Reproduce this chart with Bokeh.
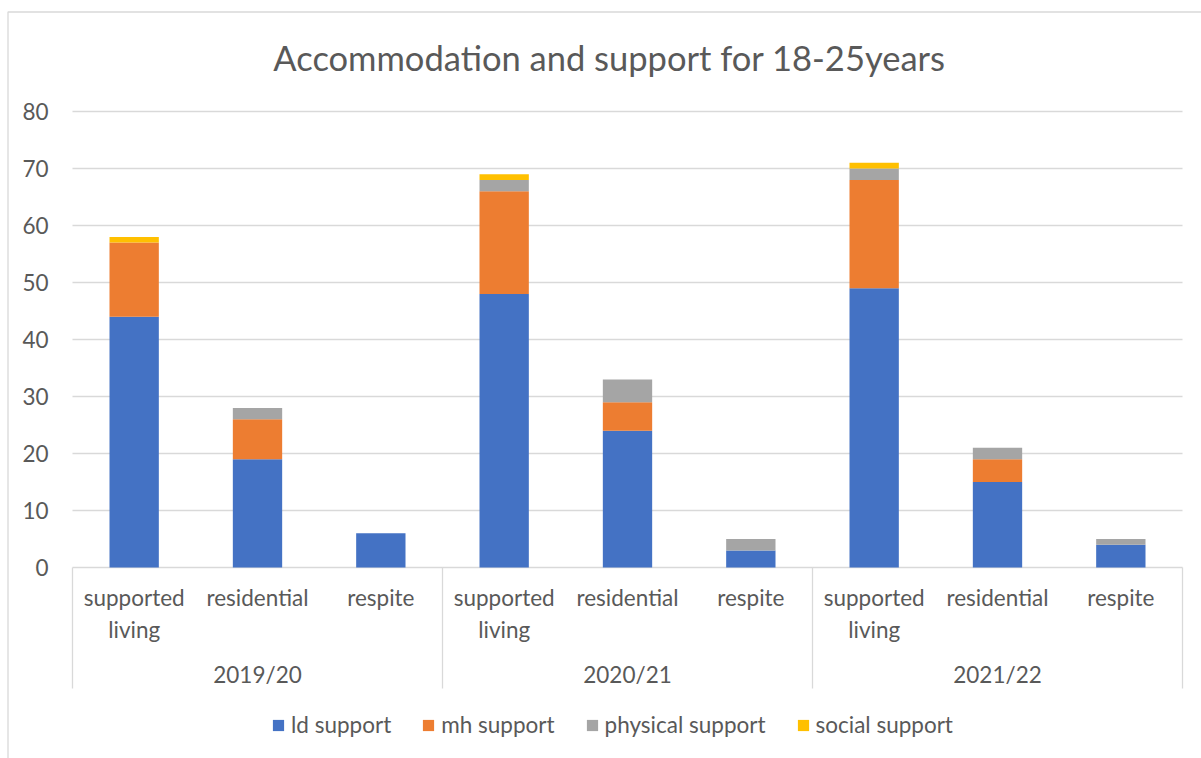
from bokeh.plotting import figure
from bokeh.models import Range1d, Legend, LegendItem, ColumnDataSource
from bokeh.core.properties import value
from bokeh.embed import file_html
from bokeh.resources import INLINE

# ---------------- data ----------------
chart_title = "Accommodation and support for 18-25years"
years = ["2019/20", "2020/21", "2021/22"]
settings = ["supported living", "residential", "respite"]
series_names = ["ld support", "mh support", "physical support", "social support"]
ld_support = [44, 19, 6, 48, 24, 3, 49, 15, 4]
mh_support = [13, 7, 0, 18, 5, 0, 19, 4, 0]
physical_support = [0, 2, 0, 2, 4, 2, 2, 2, 1]
social_support = [1, 0, 0, 1, 0, 0, 1, 0, 0]
y_ticks = [0, 10, 20, 30, 40, 50, 60, 70, 80]
series_colors = ["#4472C4", "#ED7D31", "#A5A5A5", "#FFC000"]

# ---------------- layout constants (pixels) ----------------
W, H = 1201, 758
PLOT_LEFT, PLOT_RIGHT = 72, 1182
Y0_PX, Y80_PX = 567, 111
n_cat = len(years) * len(settings)
UNIT_PX = (PLOT_RIGHT - PLOT_LEFT) / n_cat
YUNIT_PX = (Y0_PX - Y80_PX) / y_ticks[-1]


def xd(px):
    return (px - PLOT_LEFT) / UNIT_PX


def yd(py):
    return (Y0_PX - py) / YUNIT_PX


FONT = value("Lato")
TXT = "#595959"
GRID = "#D9D9D9"
LBL = "22.5px"

p = figure(width=W, height=H, x_range=Range1d(xd(0), xd(W)), y_range=Range1d(yd(H), yd(0)),
           x_axis_type=None, y_axis_type=None, toolbar_location=None,
           output_backend="svg", min_border=0, outline_line_color=None,
           background_fill_color="white", border_fill_color="white")

# chart border (left and top)
p.line(x=[xd(W + 5), xd(7.5), xd(7.5)], y=[yd(11.5), yd(11.5), yd(H + 5)],
       line_color=GRID, line_width=1.3)

# gridlines
p.segment(x0=[0] * len(y_ticks), x1=[n_cat] * len(y_ticks), y0=y_ticks, y1=y_ticks,
          line_color=GRID, line_width=1.3)

# group separators
sep_x = [g * len(settings) for g in range(len(years) + 1)]
p.segment(x0=sep_x, x1=sep_x, y0=[0] * len(sep_x), y1=[yd(688)] * len(sep_x),
          line_color=GRID, line_width=1.3)

# bars
xs = [g * len(settings) + i + 0.5 for g in range(len(years)) for i in range(len(settings))]
keys = ["ld", "mh", "phys", "social"]
src = ColumnDataSource(dict(x=xs, ld=ld_support, mh=mh_support, phys=physical_support,
                            social=social_support))
rs = p.vbar_stack(keys, x="x", width=0.4, color=series_colors, source=src, line_color=None)

# y tick labels
p.text(x=[xd(48)] * len(y_ticks), y=y_ticks, text=[str(t) for t in y_ticks],
       text_align="right", text_baseline="middle", text_font=FONT,
       text_font_size=LBL, text_color=TXT)

# category labels
cat_labels = [s.replace(" ", "\n") if len(s) > 12 else s for s in settings] * len(years)
p.text(x=xs, y=[yd(583)] * len(xs), text=cat_labels, text_align="center",
       text_baseline="top", text_font=FONT, text_font_size=LBL, text_color=TXT,
       text_line_height=1.2)

# group labels
gx = [g * len(settings) + len(settings) / 2 for g in range(len(years))]
p.text(x=gx, y=[yd(674)] * len(gx), text=years, text_align="center",
       text_baseline="middle", text_font=FONT, text_font_size=LBL, text_color=TXT)

# title
p.text(x=[xd(609)], y=[yd(57)], text=[chart_title], text_align="center",
       text_baseline="middle", text_font=FONT, text_font_size="34.5px", text_color=TXT)

# legend
legend = Legend(items=[LegendItem(label=n, renderers=[r]) for n, r in zip(series_names, rs)],
                orientation="horizontal", location=(271, 20),
                glyph_width=14, glyph_height=14, label_standoff=6, spacing=30,
                label_text_font="Lato", label_text_font_size=LBL,
                label_text_color=TXT, padding=0, margin=0,
                border_line_color=None, background_fill_alpha=0)
p.add_layout(legend)

open("out.html", "w").write(file_html(p, INLINE))
